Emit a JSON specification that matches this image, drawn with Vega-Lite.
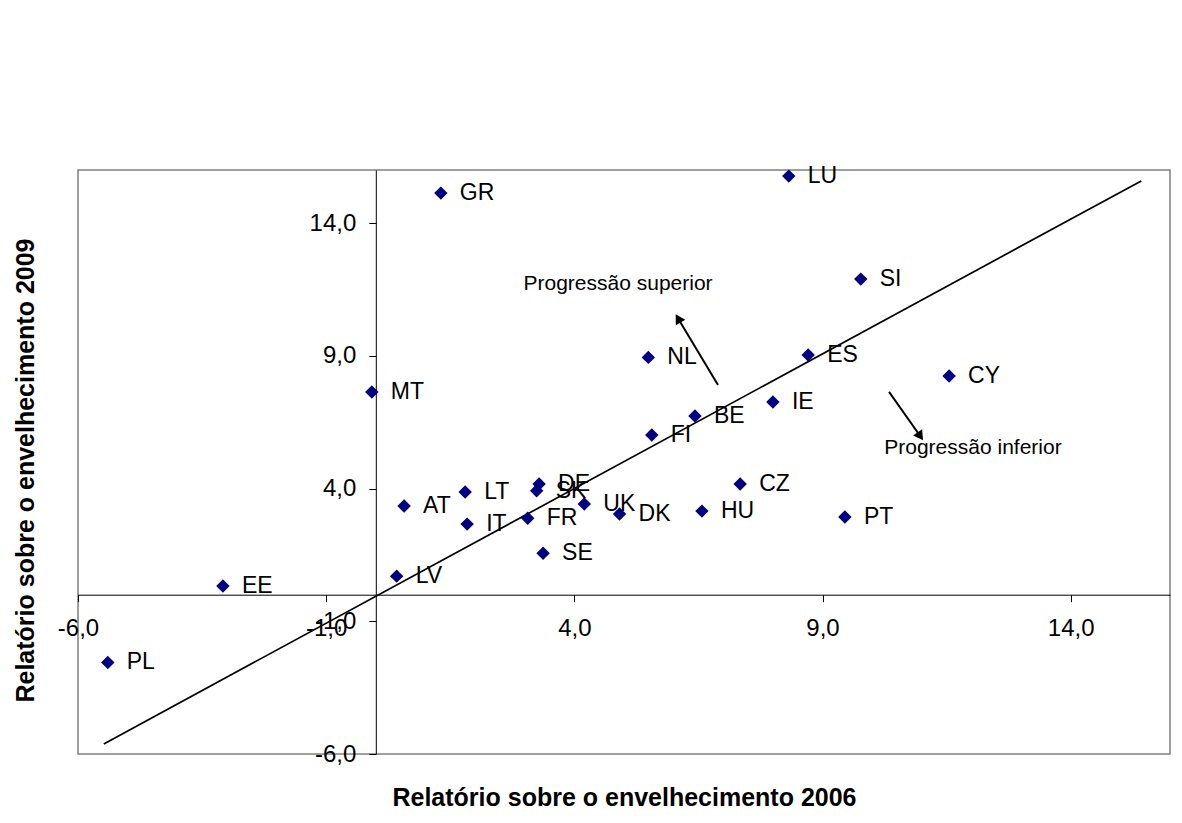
{
  "$schema": "https://vega.github.io/schema/vega-lite/v6.json",
  "width": 1092,
  "height": 584,
  "autosize": {"type": "none"},
  "padding": {"left": 78, "top": 170, "right": 12, "bottom": 69},
  "background": "white",
  "config": {
    "view": {"stroke": "#808080", "strokeWidth": 1.5},
    "font": "Liberation Sans",
    "axis": {
      "domain": true,
      "domainColor": "black",
      "domainWidth": 1,
      "grid": false,
      "ticks": true,
      "tickColor": "black",
      "tickSize": 7,
      "tickWidth": 1,
      "labelFont": "Liberation Sans",
      "labelFontSize": 24,
      "labelColor": "black",
      "labelOverlap": false,
      "labelBound": false,
      "labelFlush": false,
      "labelExpr": "replace((datum.value < 0 ? '-' : '') + format(abs(datum.value), '.1f'), '.', ',')",
      "titleFont": "Liberation Sans",
      "titleFontSize": 25,
      "titleFontWeight": "bold",
      "titleColor": "black"
    }
  },
  "datasets": {
    "countries": [
      {"label": "PL", "x": -5.40, "y": -2.55},
      {"label": "EE", "x": -3.08, "y": 0.33},
      {"label": "LV", "x": 0.42, "y": 0.70},
      {"label": "AT", "x": 0.57, "y": 3.34},
      {"label": "MT", "x": -0.08, "y": 7.64},
      {"label": "GR", "x": 1.31, "y": 15.13},
      {"label": "LT", "x": 1.80, "y": 3.87},
      {"label": "IT", "x": 1.84, "y": 2.66},
      {"label": "FR", "x": 3.06, "y": 2.88},
      {"label": "DE", "x": 3.29, "y": 4.17},
      {"label": "SK", "x": 3.24, "y": 3.92},
      {"label": "SE", "x": 3.37, "y": 1.56},
      {"label": "UK", "x": 4.20, "y": 3.42},
      {"label": "DK", "x": 4.91, "y": 3.04},
      {"label": "NL", "x": 5.49, "y": 8.94},
      {"label": "FI", "x": 5.56, "y": 6.02},
      {"label": "BE", "x": 6.43, "y": 6.73},
      {"label": "HU", "x": 6.57, "y": 3.15},
      {"label": "CZ", "x": 7.34, "y": 4.17},
      {"label": "IE", "x": 8.00, "y": 7.26},
      {"label": "LU", "x": 8.32, "y": 15.77},
      {"label": "ES", "x": 8.71, "y": 9.03},
      {"label": "PT", "x": 9.45, "y": 2.93},
      {"label": "SI", "x": 9.77, "y": 11.89},
      {"label": "CY", "x": 11.55, "y": 8.24}
    ],
    "diagonal": [
      {"x": -5.48, "y": -5.62},
      {"x": 15.42, "y": 15.59}
    ],
    "arrows": [
      {"arrow": "superior", "x": 6.894, "y": 7.90},
      {"arrow": "superior", "x": 6.09, "y": 10.41},
      {"arrow": "inferior", "x": 10.34, "y": 7.64},
      {"arrow": "inferior", "x": 10.97, "y": 5.97}
    ],
    "heads": [
      {"arrow": "superior", "x": 6.09, "y": 10.41},
      {"arrow": "inferior", "x": 10.97, "y": 5.97}
    ],
    "notes": [
      {"text": "Progressão superior", "x": 4.88, "y": 11.70},
      {"text": "Progressão inferior", "x": 12.03, "y": 5.53}
    ]
  },
  "encoding": {
    "x": {
      "field": "x", "type": "quantitative",
      "scale": {"domain": [-6, 16], "nice": false, "zero": false},
      "axis": {
        "values": [-6, -1, 4, 9, 14],
        "offset": -159.3,
        "labelPadding": 15,
        "title": "Relatório sobre o envelhecimento 2006",
        "titleBaseline": "middle",
        "titleY": 203
      }
    },
    "y": {
      "field": "y", "type": "quantitative",
      "scale": {"domain": [-6, 16], "nice": false, "zero": false},
      "axis": {
        "values": [-6, -1, 4, 9, 14],
        "offset": -297.8,
        "labelPadding": 13,
        "title": "Relatório sobre o envelhecimento 2009",
        "titleAngle": -90,
        "titleBaseline": "middle",
        "titleAlign": "center",
        "titleX": -350,
        "titleY": 300
      }
    }
  },
  "layer": [
    {
      "data": {"name": "diagonal"},
      "mark": {"type": "line", "color": "black", "strokeWidth": 1.7}
    },
    {
      "data": {"name": "arrows"},
      "mark": {"type": "line", "color": "black", "strokeWidth": 2},
      "encoding": {
        "detail": {"field": "arrow"}
      }
    },
    {
      "data": {"name": "heads"},
      "transform": [{"filter": "datum.arrow === 'superior'"}],
      "mark": {"type": "point", "shape": "triangle-up", "filled": true, "color": "black", "opacity": 1, "size": 120, "angle": 329}
    },
    {
      "data": {"name": "heads"},
      "transform": [{"filter": "datum.arrow === 'inferior'"}],
      "mark": {"type": "point", "shape": "triangle-up", "filled": true, "color": "black", "opacity": 1, "size": 120, "angle": 145}
    },
    {
      "data": {"name": "notes"},
      "mark": {"type": "text", "align": "center", "baseline": "middle", "fontSize": 21, "font": "Liberation Sans", "color": "black"},
      "encoding": {
        "text": {"field": "text"}
      }
    },
    {
      "data": {"name": "countries"},
      "mark": {"type": "point", "shape": "diamond", "filled": true, "color": "#000080", "opacity": 1, "size": 180}
    },
    {
      "data": {"name": "countries"},
      "mark": {"type": "text", "align": "left", "baseline": "middle", "dx": 19, "fontSize": 23, "font": "Liberation Sans", "color": "black"},
      "encoding": {
        "text": {"field": "label"}
      }
    }
  ]
}
